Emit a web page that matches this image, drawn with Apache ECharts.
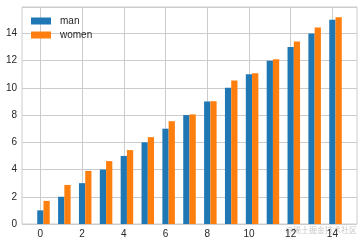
<!DOCTYPE html>
<html><head><meta charset="utf-8">
<script src="https://cdn.jsdelivr.net/npm/echarts@6/dist/echarts.min.js"></script>
<style>html,body{margin:0;padding:0;background:#fff}#c{width:363px;height:244px}</style>
</head><body><div id="c"></div>
<script>
var categories = [0,1,2,3,4,5,6,7,8,9,10,11,12,13,14];
var man = [1,2,3,4,5,6,7,8,9,10,11,12,13,14,15];
var women = [1.7,2.87,3.9,4.62,5.43,6.38,7.55,8.05,9.02,10.55,11.07,12.1,13.4,14.43,15.18];
var xTicks = [0,2,4,6,8,10,12,14];
var yTicks = [0,2,4,6,8,10,12,14];
var seriesNames = ['man','women'];
var colors = ['#1f77b4','#ff7f0e'];
var BAR_W = 0.3;
var FONT = 'Liberation Sans, Arial, sans-serif';

function makeRender(offset, color) {
  return function (params, api) {
    var x = api.value(0), y = api.value(1);
    var p0 = api.coord([x + offset - BAR_W / 2, y]);
    var p1 = api.coord([x + offset + BAR_W / 2, 0]);
    return {type: 'rect', shape: {x: p0[0], y: p0[1], width: p1[0] - p0[0], height: p1[1] - p0[1]}, style: {fill: color}};
  };
}

var chart = echarts.init(document.getElementById('c'), null, {renderer: 'canvas'});
chart.setOption({
  animation: false,
  grid: {left: 22, top: 7, right: 6, bottom: 20, show: true, borderColor: '#cccccc', borderWidth: 1, backgroundColor: '#fff'},
  legend: {
    orient: 'vertical', left: 31, top: 16, padding: 0, itemGap: 4,
    itemWidth: 20, itemHeight: 7, icon: 'rect',
    data: seriesNames,
    textStyle: {fontFamily: FONT, fontSize: 10, color: '#262626', padding: [0, 0, 0, 4]}
  },
  xAxis: {
    type: 'value', min: -0.88, max: 15.18,
    axisLine: {show: false}, axisTick: {show: false, customValues: xTicks},
    axisLabel: {customValues: xTicks, fontFamily: FONT, fontSize: 10, color: '#262626', margin: 5},
    splitLine: {show: true, lineStyle: {color: '#cccccc', width: 1}}
  },
  yAxis: {
    type: 'value', min: 0, max: 15.94, interval: 2,
    axisLine: {show: false}, axisTick: {show: false},
    axisLabel: {fontFamily: FONT, fontSize: 10, color: '#262626', margin: 5, showMaxLabel: false},
    splitLine: {show: true, lineStyle: {color: '#cccccc', width: 1}}
  },
  series: [
    {name: seriesNames[0], type: 'custom', itemStyle: {color: colors[0]}, renderItem: makeRender(0, colors[0]),
     data: categories.map(function (c, i) { return [c, man[i]]; })},
    {name: seriesNames[1], type: 'custom', itemStyle: {color: colors[1]}, renderItem: makeRender(BAR_W, colors[1]),
     data: categories.map(function (c, i) { return [c, women[i]]; })}
  ],
  graphic: [{type: 'text', right: 6, bottom: 10, style: {text: '@稀土掘金技术社区', fill: '#c8c8c8', font: '8px "Noto Sans CJK SC"'}}]
});
</script></body></html>
